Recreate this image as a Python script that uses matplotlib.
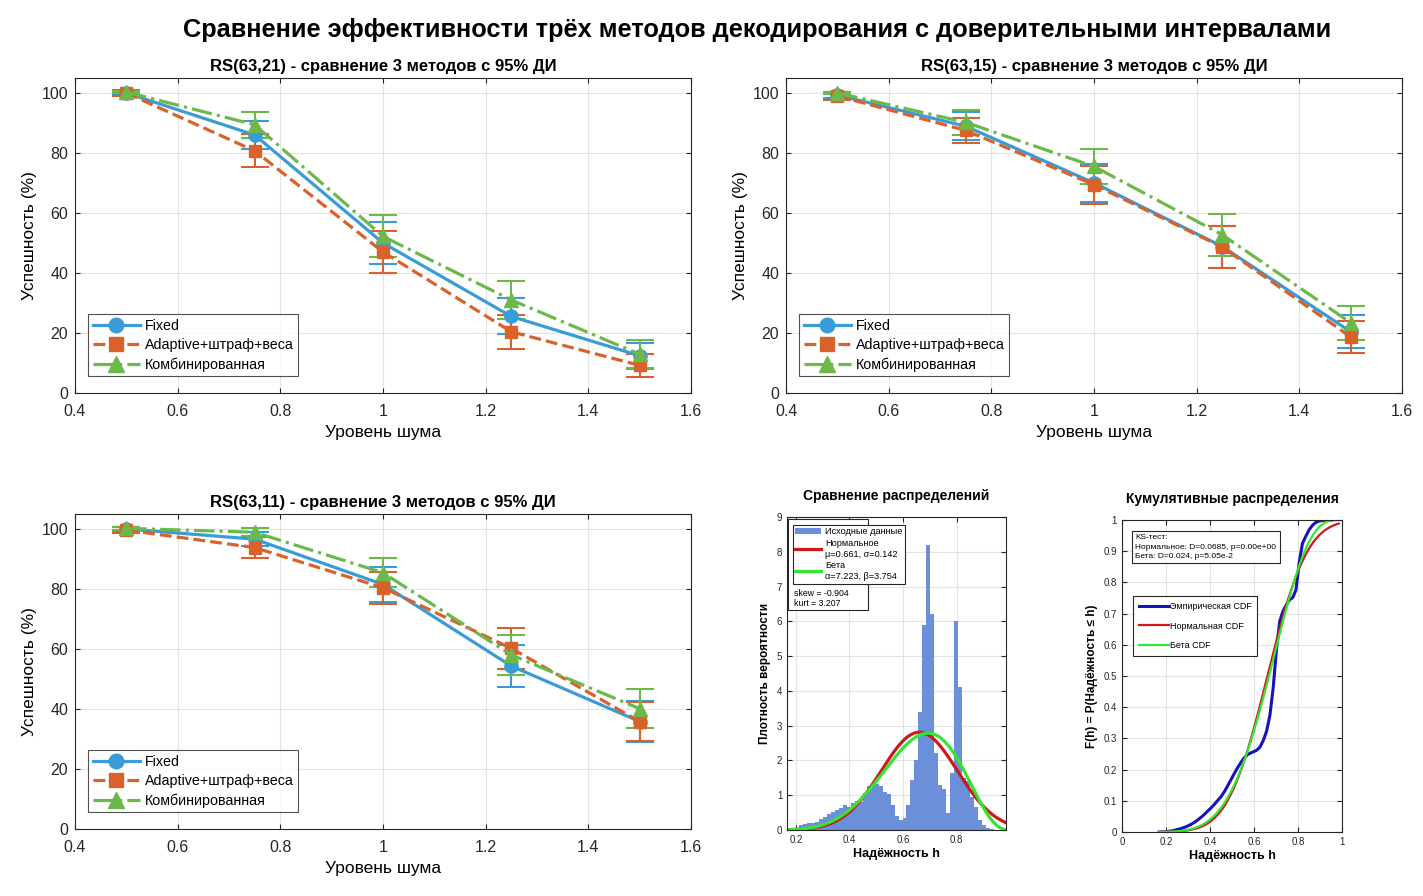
import math
import numpy as np
import matplotlib
matplotlib.use("Agg")
import matplotlib.pyplot as plt
from matplotlib.lines import Line2D
from matplotlib.patches import Rectangle

plt.rcParams['font.family'] = ['Liberation Sans', 'DejaVu Sans']

# ---------- data ----------
noise = [0.5, 0.75, 1.0, 1.25, 1.5]
codes = ["RS(63,21)", "RS(63,15)", "RS(63,11)"]
method_names = ["Fixed", "Adaptive+штраф+веса", "Комбинированная"]

fixed_21 = [100, 86, 50, 25.5, 12.4]
fixed_21_ci = [0.7, 4.8, 6.9, 6.0, 4.4]
adapt_21 = [100, 80.7, 47, 20.4, 9.2]
adapt_21_ci = [1.0, 5.5, 7.0, 5.6, 3.9]
comb_21 = [100.3, 89.4, 52.2, 31, 12.9]
comb_21_ci = [0.4, 4.4, 7.0, 6.3, 4.7]

fixed_15 = [99.3, 88.9, 70, 48.8, 20.4]
fixed_15_ci = [1.0, 4.6, 6.4, 7.0, 5.5]
adapt_15 = [99, 87.5, 69.4, 48.6, 18.7]
adapt_15_ci = [1.2, 4.3, 6.4, 7.0, 5.3]
comb_15 = [100, 90.2, 75.5, 52.7, 23.4]
comb_15_ci = [0.4, 4.2, 5.9, 6.9, 5.6]

fixed_11 = [100, 96.6, 81.5, 54.3, 35.8]
fixed_11_ci = [0.6, 2.3, 5.7, 6.9, 6.8]
adapt_11 = [99.6, 93.8, 80.4, 60.2, 35.8]
adapt_11_ci = [1.0, 3.4, 5.3, 6.9, 6.6]
comb_11 = [100.2, 98.9, 85.4, 58, 40.1]
comb_11_ci = [0.4, 1.4, 4.8, 6.6, 6.6]

# histogram of reliability h (density per bin)
hist_start = 0.169
hist_width = 0.0148
hist_density = [0.03, 0.04, 0.07, 0.13, 0.16, 0.19, 0.21, 0.24, 0.31, 0.36,
                0.45, 0.52, 0.56, 0.64, 0.71, 0.65, 0.77, 0.83, 0.79, 1.06,
                1.25, 1.31, 1.32, 1.25, 1.10, 1.02, 0.72, 0.40, 0.30, 0.34,
                0.72, 1.44, 2.00, 3.40, 5.90, 8.20, 6.20, 2.20, 1.30, 1.17,
                0.48, 1.65, 6.00, 4.10, 1.50, 1.40, 0.95, 0.65, 0.30, 0.14,
                0.07, 0.03, 0.01]
h_min, h_max = 0.167, 0.985

norm_mu, norm_sigma = 0.661, 0.142
beta_a, beta_b = 7.223, 3.754
skew_val, kurt_val = -0.904, 3.207
ks_norm_D, ks_norm_p = 0.0685, "0.00e+00"
ks_beta_D, ks_beta_p = 0.024, "5.05e-2"

c_fixed = "#3A9BD9"
c_adapt = "#D9622B"
c_comb = "#6DB84A"

fig = plt.figure(figsize=(14.23, 8.96), dpi=100)
fig.text(0.532, 0.966, "Сравнение эффективности трёх методов декодирования с доверительными интервалами",
         ha="center", va="center", fontsize=18.3, fontweight="bold")


def style_axes(ax):
    ax.grid(True, color="#e3e3e3", linewidth=0.8)
    ax.set_axisbelow(True)
    for s in ax.spines.values():
        s.set_color("#262626")
        s.set_linewidth(0.8)
    ax.tick_params(direction="in", colors="#262626", top=True, right=True)


def plot_code(ax, title, data):
    styles = [("-", "o", 9.5, c_fixed), ("--", "s", 8.5, c_adapt), ("-.", "^", 10, c_comb)]
    handles = []
    for (y, ci), (ls, mk, ms, col), name in zip(data, styles, method_names):
        ax.errorbar(noise, y, yerr=ci, color=col, linestyle=ls, linewidth=2.3,
                    marker=mk, markersize=ms, capsize=10, elinewidth=1.5,
                    capthick=1.5)
        handles.append(Line2D([], [], color=col, linestyle=ls, linewidth=2.3,
                              marker=mk, markersize=ms + 1, label=name))
    ax.set_xlim(0.4, 1.6)
    ax.set_ylim(0, 105)
    ax.set_xticks([0.4, 0.6, 0.8, 1.0, 1.2, 1.4, 1.6])
    ax.set_xticklabels(["0.4", "0.6", "0.8", "1", "1.2", "1.4", "1.6"])
    ax.set_yticks([0, 20, 40, 60, 80, 100])
    ax.tick_params(labelsize=11.5)
    ax.tick_params(axis="x", pad=8)
    ax.tick_params(axis="y", pad=5)
    ax.set_xlabel("Уровень шума", fontsize=12.5, labelpad=4)
    ax.set_ylabel("Успешность (%)", fontsize=12.5, labelpad=3)
    ax.set_title(title + " - сравнение 3 методов с 95% ДИ", fontsize=12, fontweight="bold", pad=5)
    style_axes(ax)
    leg = ax.legend(handles=handles, loc="lower left", fontsize=10.3, frameon=True,
                    fancybox=False, edgecolor="#262626", handlelength=3.3, borderpad=0.3,
                    labelspacing=0.38, handletextpad=0.35, bbox_to_anchor=(0.01, 0.03))
    leg.get_frame().set_linewidth(0.8)


ax1 = fig.add_axes([0.0527, 0.5614, 0.4329, 0.3516])
plot_code(ax1, codes[0], [(fixed_21, fixed_21_ci), (adapt_21, adapt_21_ci), (comb_21, comb_21_ci)])
ax2 = fig.add_axes([0.5524, 0.5614, 0.4329, 0.3516])
plot_code(ax2, codes[1], [(fixed_15, fixed_15_ci), (adapt_15, adapt_15_ci), (comb_15, comb_15_ci)])
ax3 = fig.add_axes([0.0527, 0.0748, 0.4329, 0.3516])
plot_code(ax3, codes[2], [(fixed_11, fixed_11_ci), (adapt_11, adapt_11_ci), (comb_11, comb_11_ci)])

# ---------- histogram + fitted densities ----------
dens = np.array(hist_density)
edges = hist_start + hist_width * np.arange(len(dens) + 1)
x = np.linspace(h_min, h_max, 400)
norm_pdf = np.exp(-0.5 * ((x - norm_mu) / norm_sigma) ** 2) / (norm_sigma * math.sqrt(2 * math.pi))
log_B = math.lgamma(beta_a) + math.lgamma(beta_b) - math.lgamma(beta_a + beta_b)
beta_pdf = np.exp((beta_a - 1) * np.log(x) + (beta_b - 1) * np.log(1 - x) - log_B)

ax4 = fig.add_axes([0.5531, 0.0737, 0.1539, 0.3493])
bars = ax4.bar(edges[:-1], dens, width=hist_width, align="edge", color="#6B8FD8",
               edgecolor="none", label="Исходные данные")
ln_n, = ax4.plot(x, norm_pdf, color="#CC1A1A", linewidth=2.3,
                 label=f"Нормальное\nμ={norm_mu}, σ={norm_sigma}")
ln_b, = ax4.plot(x, beta_pdf, color="#33E633", linewidth=2.3,
                 label=f"Бета\nα={beta_a}, β={beta_b}")
ax4.set_xlim(h_min, h_max)
ax4.set_ylim(0, 9)
ax4.set_xticks([0.2, 0.4, 0.6, 0.8])
ax4.set_yticks(range(10))
ax4.tick_params(labelsize=7)
style_axes(ax4)
ax4.set_title("Сравнение распределений", fontsize=10, fontweight="bold", pad=12)
ax4.set_xlabel("Надёжность h", fontsize=9, fontweight="bold", labelpad=2)
ax4.set_ylabel("Плотность вероятности", fontsize=8.5, fontweight="bold", labelpad=4)
# stats box behind the legend
ax4.add_patch(Rectangle((0.004, 0.703), 0.366, 0.29, transform=ax4.transAxes,
                        facecolor="white", edgecolor="#262626", linewidth=0.8, zorder=4))
ax4.text(0.03, 0.757, "skew = %.3f" % skew_val, transform=ax4.transAxes,
         ha="left", va="center", fontsize=6.3, zorder=5)
ax4.text(0.03, 0.722, "kurt = %.3f" % kurt_val, transform=ax4.transAxes,
         ha="left", va="center", fontsize=6.3, zorder=5)
leg4 = ax4.legend(handles=[bars, ln_n, ln_b], loc="upper left", fontsize=6.6, frameon=True,
                  fancybox=False, edgecolor="#262626", handlelength=2.8, borderpad=0.3,
                  labelspacing=0.3, handletextpad=0.4, bbox_to_anchor=(0.005, 0.99),
                  framealpha=1)
leg4.get_frame().set_linewidth(0.8)
leg4.set_zorder(6)

# ---------- cumulative distributions ----------
emp_cdf = np.concatenate([[0], np.cumsum(dens)])
emp_cdf = emp_cdf / emp_cdf[-1]
norm_cdf = 0.5 * (1 + np.array([math.erf((v - norm_mu) / (norm_sigma * math.sqrt(2))) for v in x]))
beta_cdf = np.concatenate([[0], np.cumsum(0.5 * (beta_pdf[1:] + beta_pdf[:-1]) * np.diff(x))])
beta_cdf = beta_cdf + math.exp(beta_a * math.log(h_min) - math.log(beta_a) - log_B)

ax5 = fig.add_axes([0.7885, 0.0714, 0.1546, 0.3482])
ax5.plot(edges, emp_cdf, color="#1414B8", linewidth=2.2, label="Эмпирическая CDF")
ax5.plot(x, norm_cdf, color="#CC1A1A", linewidth=1.6, label="Нормальная CDF")
ax5.plot(x, beta_cdf, color="#33E633", linewidth=1.6, label="Бета CDF")
ax5.set_xlim(0, 1)
ax5.set_ylim(0, 1)
ax5.set_xticks(np.arange(0, 1.01, 0.2))
ax5.set_xticklabels(["0", "0.2", "0.4", "0.6", "0.8", "1"])
ax5.set_yticks(np.arange(0, 1.01, 0.1))
ax5.set_yticklabels(["0", "0.1", "0.2", "0.3", "0.4", "0.5", "0.6", "0.7", "0.8", "0.9", "1"])
ax5.tick_params(labelsize=7)
style_axes(ax5)
ax5.set_title("Кумулятивные распределения", fontsize=10, fontweight="bold", pad=12)
ax5.set_xlabel("Надёжность h", fontsize=9, fontweight="bold", labelpad=2)
ax5.set_ylabel("F(h) = P(Надёжность ≤ h)", fontsize=8.5, fontweight="bold", labelpad=4)
ax5.text(0.06, 0.955, "KS-тест:\nНормальное: D=%s, p=%s\nБета: D=%s, p=%s"
         % (ks_norm_D, ks_norm_p, ks_beta_D, ks_beta_p),
         transform=ax5.transAxes, ha="left", va="top", fontsize=6, linespacing=1.5,
         bbox=dict(boxstyle="square,pad=0.4", facecolor="white", edgecolor="#262626", linewidth=0.8))
leg5 = ax5.legend(loc="upper left", fontsize=6.5, frameon=True, fancybox=False,
                  edgecolor="#262626", handlelength=3.4, borderpad=0.6, labelspacing=1.2,
                  handletextpad=0.1, bbox_to_anchor=(0.03, 0.77), framealpha=1)
leg5.get_frame().set_linewidth(0.8)

fig.savefig("out.png", dpi=100)
